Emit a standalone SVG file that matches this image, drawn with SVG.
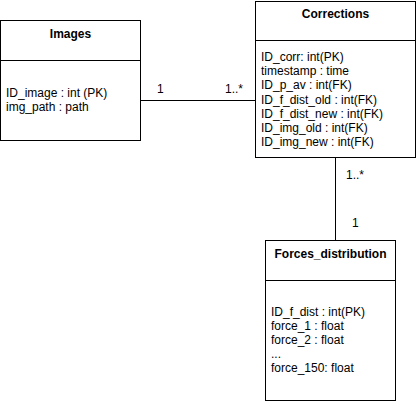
<svg xmlns="http://www.w3.org/2000/svg" width="416" height="401" viewBox="0 0 416 401">
<style>
.box{fill:#fff;stroke:#000;stroke-width:1}
.line{fill:none;stroke:#000;stroke-width:1}
text{font-family:"Liberation Sans",Arial,sans-serif;font-size:12px;fill:#000}
.title{font-weight:bold;text-anchor:middle}
</style>
<rect width="416" height="401" fill="#fff"/>
<g id="connectors">
<path class="line" d="M140.5 100.5H255.5"/>
<text x="157" y="93">1</text>
<text x="225" y="93">1..*</text>
<path class="line" d="M335.5 157.5V240.5"/>
<text x="346" y="179">1..*</text>
<text x="352" y="227">1</text>
</g>
<g id="images">
<rect class="box" x="0.5" y="20.5" width="140" height="120"/>
<path class="line" d="M0.5 60.5H140.5"/>
<text class="title" x="70.5" y="38">Images</text>
<text x="6" y="96.5">ID_image : int (PK)</text>
<text x="6" y="110.7">img_path : path</text>
</g>
<g id="corrections">
<rect class="box" x="255.5" y="1.5" width="160" height="156"/>
<path class="line" d="M255.5 40.5H415.5"/>
<text class="title" x="335.5" y="18">Corrections</text>
<text x="261" y="61">ID_corr: int(PK)</text>
<text x="261" y="75.2">timestamp : time</text>
<text x="261" y="89.4">ID_p_av : int(FK)</text>
<text x="261" y="103.6">ID_f_dist_old : int(FK)</text>
<text x="261" y="117.8">ID_f_dist_new : int(FK)</text>
<text x="261" y="132">ID_img_old : int(FK)</text>
<text x="261" y="146.2">ID_img_new : int(FK)</text>
</g>
<g id="forces_distribution">
<rect class="box" x="265.5" y="240.5" width="130" height="160"/>
<path class="line" d="M265.5 280.5H395.5"/>
<text class="title" x="330.5" y="258">Forces_distribution</text>
<text x="271" y="315.5">ID_f_dist : int(PK)</text>
<text x="271" y="329.7">force_1 : float</text>
<text x="271" y="343.9">force_2 : float</text>
<text x="271" y="358.1">...</text>
<text x="271" y="372.3">force_150: float</text>
</g>
</svg>
